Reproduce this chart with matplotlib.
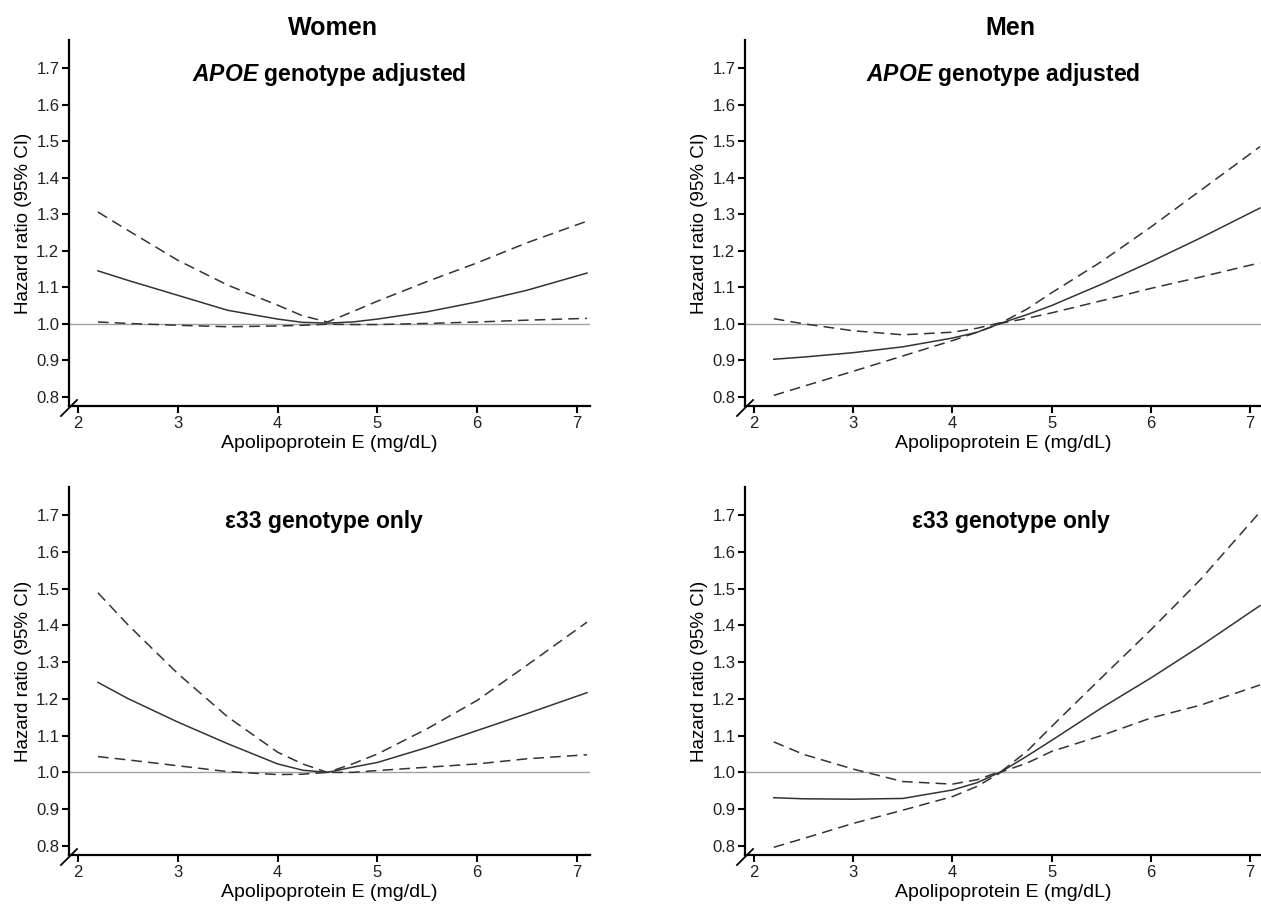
import matplotlib
matplotlib.use("Agg")
import matplotlib.pyplot as plt

plt.rcParams['font.family'] = ['Liberation Sans', 'DejaVu Sans']
plt.rcParams['mathtext.fontset'] = 'custom'
plt.rcParams['mathtext.it'] = 'Liberation Sans:italic:bold'
plt.rcParams['mathtext.rm'] = 'Liberation Sans:bold'

# ---- data ----
apoe_x = [2.2, 2.5, 3.0, 3.5, 4.0, 4.25, 4.5, 4.75, 5.0, 5.5, 6.0, 6.5, 7.1]

women_adj_hr = [1.145, 1.119, 1.078, 1.037, 1.013, 1.004, 1.002, 1.005, 1.013, 1.033, 1.060, 1.092, 1.139]
women_adj_up = [1.306, 1.256, 1.174, 1.106, 1.051, 1.022, 1.005, 1.033, 1.062, 1.116, 1.167, 1.222, 1.281]
women_adj_lo = [1.005, 1.001, 0.996, 0.992, 0.994, 0.996, 0.999, 0.998, 0.998, 1.001, 1.005, 1.010, 1.015]

men_adj_hr = [0.903, 0.909, 0.921, 0.937, 0.961, 0.977, 1.003, 1.025, 1.050, 1.108, 1.170, 1.235, 1.317]
men_adj_up = [1.014, 1.000, 0.981, 0.970, 0.977, 0.988, 1.004, 1.040, 1.085, 1.170, 1.265, 1.365, 1.485]
men_adj_lo = [0.804, 0.829, 0.870, 0.912, 0.954, 0.977, 1.002, 1.015, 1.030, 1.063, 1.097, 1.128, 1.167]

women_e33_hr = [1.245, 1.201, 1.137, 1.078, 1.023, 1.006, 1.0, 1.014, 1.027, 1.068, 1.114, 1.160, 1.217]
women_e33_up = [1.489, 1.402, 1.269, 1.151, 1.055, 1.023, 1.0, 1.023, 1.050, 1.119, 1.196, 1.292, 1.409]
women_e33_lo = [1.043, 1.034, 1.018, 1.002, 0.994, 0.995, 1.0, 1.000, 1.005, 1.014, 1.023, 1.037, 1.048]

men_e33_hr = [0.931, 0.928, 0.927, 0.929, 0.952, 0.972, 1.003, 1.044, 1.087, 1.175, 1.257, 1.344, 1.454]
men_e33_up = [1.083, 1.049, 1.009, 0.975, 0.968, 0.980, 1.004, 1.057, 1.125, 1.257, 1.388, 1.525, 1.709]
men_e33_lo = [0.796, 0.820, 0.861, 0.897, 0.934, 0.962, 1.002, 1.025, 1.057, 1.100, 1.148, 1.183, 1.238]

y_ticks = [0.8, 0.9, 1.0, 1.1, 1.2, 1.3, 1.4, 1.5, 1.6, 1.7]
y_ticklabels = ['0.8', '0.9', '1.0', '1.1', '1.2', '1.3', '1.4', '1.5', '1.6', '1.7']
x_ticks = [2, 3, 4, 5, 6, 7]

W, H = 1261, 905
fig = plt.figure(figsize=(W / 100, H / 100), dpi=100)

def px_rect(l, r, top, bottom):
    return [l / W, 1 - bottom / H, (r - l) / W, (bottom - top) / H]

panels = [
    (px_rect(69, 590, 40, 406), women_adj_hr, women_adj_up, women_adj_lo,
     r'$\mathit{APOE}$ genotype adjusted', 7.13, 0.5),
    (px_rect(745, 1261, 40, 406), men_adj_hr, men_adj_up, men_adj_lo,
     r'$\mathit{APOE}$ genotype adjusted', 7.11, 0.5),
    (px_rect(69, 590, 487, 855), women_e33_hr, women_e33_up, women_e33_lo,
     'ε33 genotype only', 7.13, 0.49),
    (px_rect(745, 1261, 487, 855), men_e33_hr, men_e33_up, men_e33_lo,
     'ε33 genotype only', 7.11, 0.515),
]

line_col = '#333333'
for rect, hr, up, lo, sub, xmax, subx in panels:
    ax = fig.add_axes(rect)
    ax.set_xlim(1.91, xmax)
    ax.set_ylim(0.775, 1.777)
    ax.axhline(1.0, color='#a0a0a0', lw=1.0, zorder=1)
    ax.plot(apoe_x, hr, color=line_col, lw=1.1, zorder=3)
    ax.plot(apoe_x, up, color=line_col, lw=1.1, ls=(0, (7, 4)), zorder=3)
    ax.plot(apoe_x, lo, color=line_col, lw=1.1, ls=(0, (7, 4)), zorder=3)
    for s in ['top', 'right']:
        ax.spines[s].set_visible(False)
    for s in ['left', 'bottom']:
        ax.spines[s].set_linewidth(1.6)
        ax.spines[s].set_color('black')
    ax.set_xticks(x_ticks)
    ax.set_yticks(y_ticks)
    ax.set_yticklabels(y_ticklabels)
    ax.tick_params(direction='out', length=5, width=1.5, labelsize=12,
                   colors='black', labelcolor='#222222', pad=2)
    ax.set_xlabel('Apolipoprotein E (mg/dL)', fontsize=14, labelpad=3)
    ax.set_ylabel('Hazard ratio (95% CI)', fontsize=13.5, labelpad=3)
    ax.text(subx, 0.905, sub, transform=ax.transAxes, ha='center', va='center',
            fontsize=16.5, fontweight='bold')
    # axis break mark
    bw, bh = rect[2] * W, rect[3] * H
    ax.plot([-8 / bw, 8 / bw], [-10 / bh, 6 / bh], transform=ax.transAxes,
            color='black', lw=1.3, clip_on=False)

fig.text(333 / W, 1 - 28 / H, 'Women', ha='center', va='center', fontsize=18, fontweight='bold')
fig.text(1010 / W, 1 - 28 / H, 'Men', ha='center', va='center', fontsize=18, fontweight='bold')

fig.savefig('out.png', dpi=100, facecolor='white')
